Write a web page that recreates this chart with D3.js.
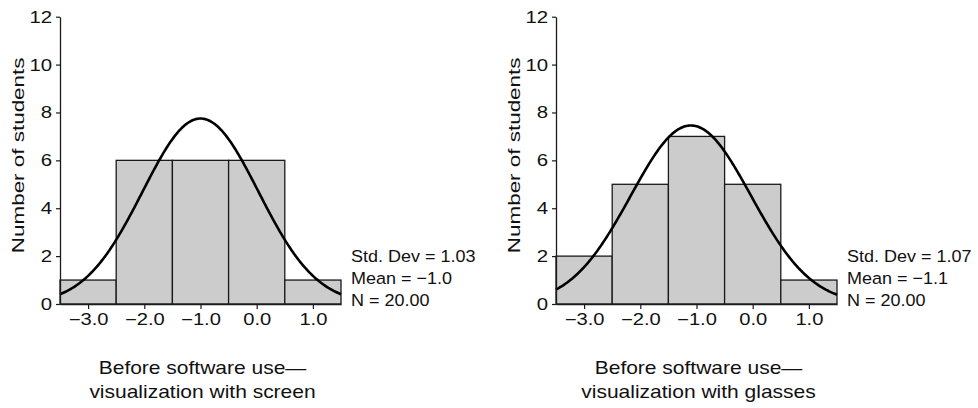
<!DOCTYPE html>
<html>
<head>
<meta charset="utf-8">
<script src="https://cdn.jsdelivr.net/npm/d3@7"></script>
<style>
  body { margin: 0; background: #fff; }
  svg { display: block; font-family: "Liberation Sans", Arial, sans-serif; }
</style>
</head>
<body>
<svg id="chart" width="978" height="408"></svg>
<script>
// bin centres (width 1) and counts
const binCenters = [-3, -2, -1, 0, 1];
const screenCounts = [1, 6, 6, 6, 1];
const glassesCounts = [2, 5, 7, 5, 1];

const xTicks = [-3, -2, -1, 0, 1];
const yTicks = [0, 2, 4, 6, 8, 10, 12];

// summary stats printed next to each panel
const stdDevs = [1.03, 1.07];
const means = [-1.0, -1.1];
const ns = [20, 20];

const titles = [
  ["Before software use\u2014", "visualization with screen"],
  ["Before software use\u2014", "visualization with glasses"]
];

const svg = d3.select('#chart');

svg.append('rect').attr('width', 978).attr('height', 408).attr('fill', '#fff');

function histogramPanel(counts, i, left) {
  const margin = {top: 16.7, bottom: 104};
  const width = 281;
  const height = 408;

  const x = d3.scaleLinear()
      .domain([-3.5, 1.5])
      .range([left, left + width]);

  const y = d3.scaleLinear()
      .domain([0, 12])
      .range([height - margin.bottom, margin.top]);

  const g = svg.append('g');

  // bars
  g.selectAll('rect.bar')
    .data(binCenters.map((c, k) => ({c: c, n: counts[k]})))
    .join('rect')
      .attr('class', 'bar')
      .attr('x', d => x(d.c - 0.5))
      .attr('width', d => x(d.c + 0.5) - x(d.c - 0.5))
      .attr('y', d => y(d.n))
      .attr('height', d => y(0) - y(d.n))
      .attr('fill', '#cccccc')
      .attr('stroke', '#1a1a1a')
      .attr('stroke-width', 1.3);

  // fitted normal curve, scaled to N * bin width
  const sd = stdDevs[i], mu = means[i], n = ns[i];
  const normal = v => n / (sd * Math.sqrt(2 * Math.PI)) * Math.exp(-0.5 * ((v - mu) / sd) ** 2);

  g.append('path')
    .datum(d3.range(-3.5, 1.5001, 0.02))
    .attr('fill', 'none')
    .attr('stroke', '#000')
    .attr('stroke-width', 2.6)
    .attr('d', d3.line().x(d => x(d)).y(d => y(normal(d))));

  // y axis
  const yAxis = g.append('g')
      .attr('transform', `translate(${left},0)`)
      .call(d3.axisLeft(y).tickValues(yTicks).tickSize(4).tickSizeOuter(0).tickPadding(4));
  yAxis.select('.domain').attr('stroke', '#1a1a1a').attr('stroke-width', 1.3);
  yAxis.selectAll('.tick line').attr('stroke', '#1a1a1a').attr('stroke-width', 1.2);
  yAxis.selectAll('.tick text')
      .attr('font-size', 17)
      .attr('fill', '#111')
      .attr('font-family', '"Liberation Sans", Arial, sans-serif')
      .attr('x', -6.5)
      .attr('transform', 'scale(1.2,1)');

  // x axis
  const xAxis = g.append('g')
      .attr('transform', `translate(0,${y(0)})`)
      .call(d3.axisBottom(x).tickValues(xTicks).tickFormat(d3.format('.1f')).tickSize(5).tickSizeOuter(0).tickPadding(5));
  xAxis.select('.domain').attr('stroke', '#1a1a1a').attr('stroke-width', 1.3);
  xAxis.selectAll('.tick line').attr('stroke', '#1a1a1a').attr('stroke-width', 1.2);
  xAxis.selectAll('.tick text')
      .attr('font-size', 16)
      .attr('fill', '#111')
      .attr('font-family', '"Liberation Sans", Arial, sans-serif')
      .attr('transform', 'scale(1.26,1)');

  // y label
  g.append('text')
      .attr('transform', `translate(${left - 36},${(y(0) + y(12)) / 2 - 5}) rotate(-90) scale(1.32,1)`)
      .attr('text-anchor', 'middle')
      .attr('font-size', 17)
      .attr('fill', '#111')
      .text('Number of students');

  // stats block
  const fmt2 = d3.format('.2f'), fmt1 = d3.format('.1f');
  const statLines = [
    'Std. Dev = ' + fmt2(sd),
    'Mean = ' + fmt1(mu),
    'N = ' + fmt2(n)
  ];
  g.selectAll('text.stat')
    .data(statLines)
    .join('text')
      .attr('class', 'stat')
      .attr('transform', (d, k) => `translate(${left + width + 10},${262 + k * 21.8}) scale(1.06,1)`)
      .attr('font-size', 17)
      .attr('fill', '#111')
      .text(d => d);

  // panel caption
  g.selectAll('text.title')
    .data(titles[i])
    .join('text')
      .attr('class', 'title')
      .attr('transform', (d, k) => `translate(${left + width / 2 + 2},${374 + k * 24}) scale(1.2,1)`)
      .attr('text-anchor', 'middle')
      .attr('font-size', 17.5)
      .attr('fill', '#111')
      .text(d => d);
}

histogramPanel(screenCounts, 0, 60);
histogramPanel(glassesCounts, 1, 556);
</script>
</body>
</html>
